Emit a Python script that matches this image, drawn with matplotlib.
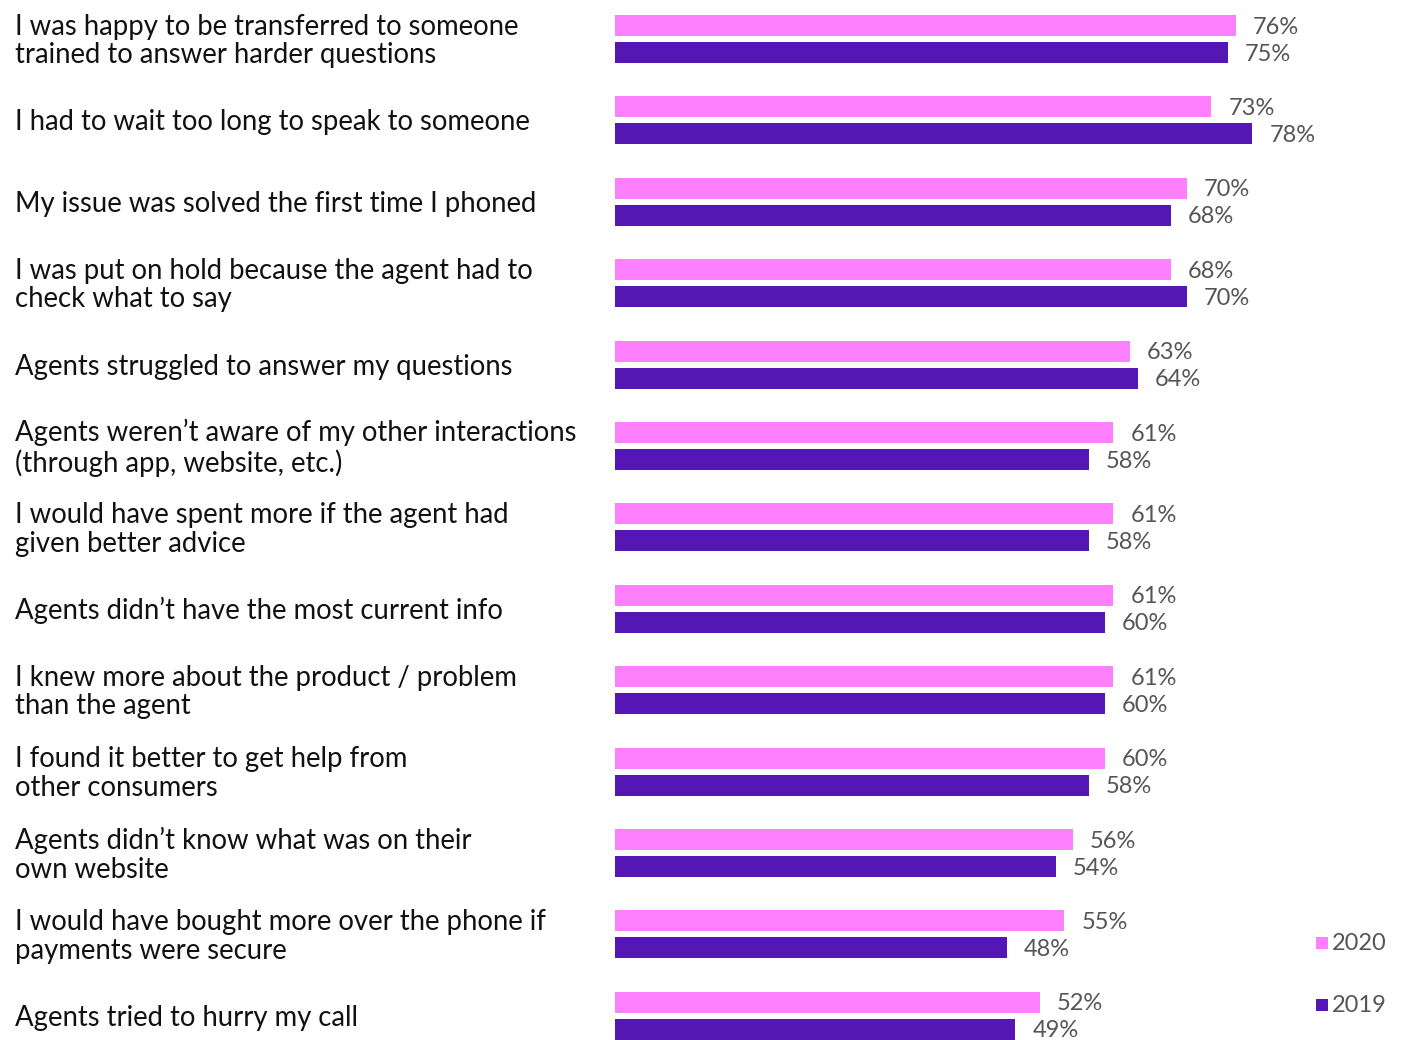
import matplotlib
matplotlib.use("Agg")
import matplotlib.pyplot as plt
from matplotlib.patches import Rectangle
import numpy as np

categories = [
    "I was happy to be transferred to someone\ntrained to answer harder questions",
    "I had to wait too long to speak to someone",
    "My issue was solved the first time I phoned",
    "I was put on hold because the agent had to\ncheck what to say",
    "Agents struggled to answer my questions",
    "Agents weren\u2019t aware of my other interactions\n(through app, website, etc.)",
    "I would have spent more if the agent had\ngiven better advice",
    "Agents didn\u2019t have the most current info",
    "I knew more about the product / problem\nthan the agent",
    "I found it better to get help from\nother consumers",
    "Agents didn\u2019t know what was on their\nown website",
    "I would have bought more over the phone if\npayments were secure",
    "Agents tried to hurry my call",
]
values_2020 = [76, 73, 70, 68, 63, 61, 61, 61, 61, 60, 56, 55, 52]
values_2019 = [75, 78, 68, 70, 64, 58, 58, 60, 60, 58, 54, 48, 49]
series_names = ["2020", "2019"]

PINK = "#FF80FF"
PURPLE = "#5416B4"
GRAY = "#555555"

W, H = 1401, 1040
fig = plt.figure(figsize=(W / 100, H / 100), dpi=100)
ax_left = 615 / W
ax = fig.add_axes([ax_left, 0, 1 - ax_left, 1])
ax.set_xlim(0, (W - 615) / 8.17)
row = 81.4
ax.set_ylim((H - 39) / row, -39 / row)
ax.axis("off")

y = np.arange(len(categories))
off = 13.5 / row
bh = 21 / row
ax.barh(y - off, values_2020, height=bh, color=PINK)
ax.barh(y + off, values_2019, height=bh, color=PURPLE)

vfont = dict(family=["Lato", "DejaVu Sans"], fontweight="normal", color=GRAY, fontsize=17)
dy = 1.5 / row
for i in range(len(categories)):
    ax.text(values_2020[i] + 17 / 8.17, y[i] - off + dy, f"{values_2020[i]}%", va="center", ha="left", **vfont)
    ax.text(values_2019[i] + 17 / 8.17, y[i] + off + dy, f"{values_2019[i]}%", va="center", ha="left", **vfont)
    fig.text(15 / W, 1 - (41 + row * i) / H, categories[i], ha="left", va="center",
             fontsize=19.8, family=["Lato", "DejaVu Sans"], color="#111111", linespacing=1.12)

# legend
for name, col, yc in [(series_names[0], PINK, 943), (series_names[1], PURPLE, 1005)]:
    fig.patches.append(Rectangle((1316 / W, 1 - (yc + 6) / H), 12 / W, 12 / H,
                                 transform=fig.transFigure, facecolor=col, edgecolor="none"))
    fig.text(1332 / W, 1 - yc / H, name, ha="left", va="center", **vfont)

fig.savefig("out.png", dpi=100)
